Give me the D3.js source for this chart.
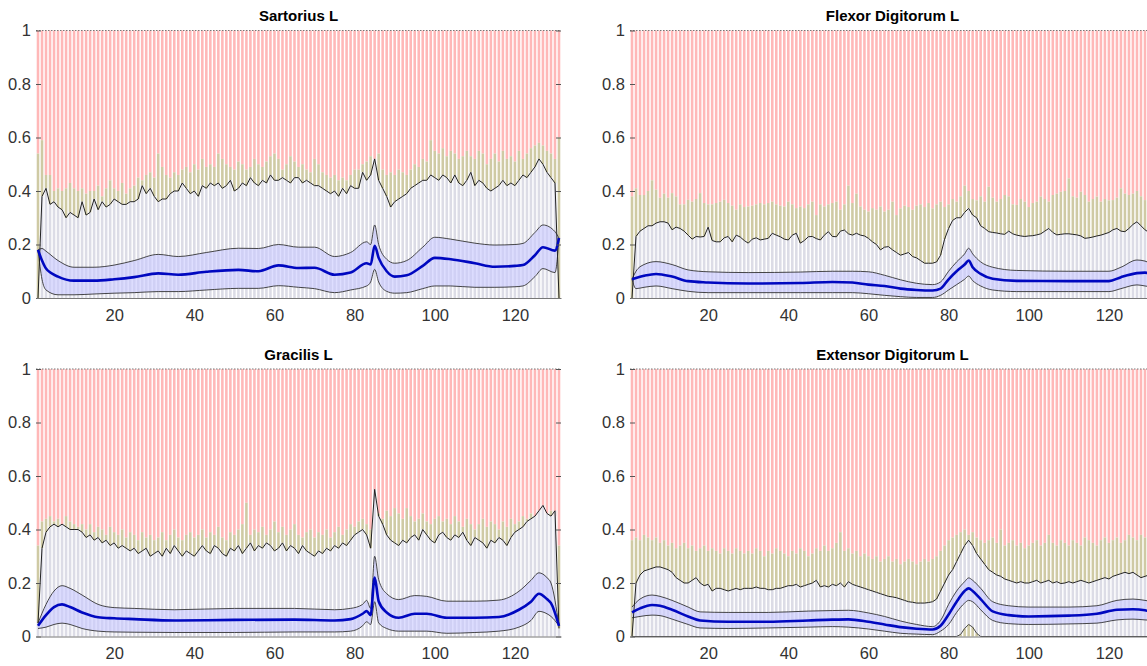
<!DOCTYPE html>
<html>
<head>
<meta charset="utf-8">
<script src="https://cdn.jsdelivr.net/npm/d3@7"></script>
<style>
  body { margin: 0; background: #fff; }
  svg { display: block; font-family: "Liberation Sans", Arial, Helvetica, sans-serif; }
</style>
</head>
<body>
<div id="chart"></div>
<script>
// frame index on the x axis
const frames = d3.range(1, 132);
const xTicks = [20, 40, 60, 80, 100, 120];
const yTicks = [0, 0.2, 0.4, 0.6, 0.8, 1];
const titles = ['Sartorius L', 'Flexor Digitorum L', 'Gracilis L', 'Extensor Digitorum L'];

// ---- Sartorius L ----
const sartMax = [
  0, 0.38, 0.41, 0.35, 0.36, 0.34, 0.33, 0.30, 0.32, 0.31,
  0.30, 0.36, 0.31, 0.32, 0.37, 0.33, 0.36, 0.34, 0.35, 0.37,
  0.36, 0.35, 0.35, 0.36, 0.36, 0.37, 0.42, 0.39, 0.41, 0.38,
  0.36, 0.37, 0.37, 0.39, 0.40, 0.40, 0.43, 0.41, 0.39, 0.40,
  0.38, 0.42, 0.41, 0.43, 0.42, 0.43, 0.41, 0.42, 0.44, 0.40,
  0.41, 0.43, 0.42, 0.45, 0.43, 0.42, 0.44, 0.43, 0.46, 0.44,
  0.44, 0.45, 0.44, 0.43, 0.45, 0.45, 0.43, 0.44, 0.43, 0.42,
  0.42, 0.41, 0.40, 0.39, 0.40, 0.38, 0.41, 0.39, 0.42, 0.41,
  0.41, 0.47, 0.44, 0.46, 0.52, 0.44, 0.41, 0.38, 0.34, 0.36,
  0.37, 0.38, 0.39, 0.41, 0.42, 0.43, 0.44, 0.44, 0.46, 0.45,
  0.44, 0.46, 0.45, 0.43, 0.46, 0.43, 0.42, 0.44, 0.47, 0.42,
  0.44, 0.43, 0.41, 0.40, 0.41, 0.42, 0.44, 0.42, 0.43, 0.42,
  0.44, 0.46, 0.45, 0.47, 0.49, 0.52, 0.50, 0.47, 0.45, 0.43,
  0
];
const sartTop = [
  0.54, 0.59, 0.46, 0.46, 0.40, 0.41, 0.40, 0.41, 0.43, 0.41,
  0.40, 0.41, 0.39, 0.40, 0.40, 0.42, 0.38, 0.41, 0.44, 0.41,
  0.40, 0.43, 0.39, 0.41, 0.42, 0.45, 0.44, 0.46, 0.47, 0.45,
  0.54, 0.49, 0.46, 0.45, 0.47, 0.46, 0.48, 0.49, 0.47, 0.50,
  0.48, 0.52, 0.49, 0.50, 0.49, 0.54, 0.52, 0.50, 0.49, 0.48,
  0.51, 0.50, 0.48, 0.49, 0.52, 0.50, 0.49, 0.51, 0.53, 0.54,
  0.52, 0.48, 0.50, 0.53, 0.51, 0.49, 0.50, 0.48, 0.47, 0.52,
  0.50, 0.47, 0.46, 0.45, 0.46, 0.44, 0.45, 0.44, 0.46, 0.48,
  0.48, 0.50, 0.51, 0.53, 0.52, 0.54, 0.48, 0.46, 0.47, 0.46,
  0.48, 0.47, 0.46, 0.48, 0.50, 0.49, 0.52, 0.51, 0.59, 0.55,
  0.54, 0.56, 0.53, 0.55, 0.54, 0.52, 0.53, 0.55, 0.53, 0.52,
  0.55, 0.54, 0.50, 0.52, 0.54, 0.51, 0.55, 0.52, 0.53, 0.51,
  0.55, 0.52, 0.54, 0.56, 0.57, 0.58, 0.57, 0.55, 0.54, 0.52,
  0.60
];
const sartKnots = [1, 2, 3, 6, 10, 15, 20, 25, 31, 36, 43, 51, 56, 61, 66, 70, 75, 79, 83, 84, 85, 86, 88, 90, 93, 97, 100, 104, 110, 115, 120, 122, 125, 127, 130, 131];
const sartMean  = [0.18, 0.14, 0.11, 0.08, 0.065, 0.065, 0.07, 0.078, 0.092, 0.087, 0.098, 0.105, 0.1, 0.122, 0.112, 0.113, 0.087, 0.095, 0.13, 0.125, 0.195, 0.15, 0.1, 0.08, 0.085, 0.12, 0.15, 0.145, 0.13, 0.117, 0.12, 0.123, 0.16, 0.19, 0.177, 0.224];
const sartUpper = [0.18, 0.185, 0.175, 0.14, 0.115, 0.115, 0.123, 0.14, 0.163, 0.155, 0.17, 0.186, 0.185, 0.2, 0.19, 0.19, 0.155, 0.17, 0.21, 0.2, 0.273, 0.2, 0.145, 0.13, 0.14, 0.19, 0.227, 0.22, 0.205, 0.198, 0.2, 0.204, 0.245, 0.273, 0.248, 0.224];
const sartLower = [0.18, 0.07, 0.03, 0.012, 0.012, 0.015, 0.018, 0.02, 0.024, 0.024, 0.03, 0.036, 0.036, 0.046, 0.04, 0.035, 0.02, 0.03, 0.045, 0.06, 0.107, 0.06, 0.025, 0.018, 0.02, 0.035, 0.045, 0.045, 0.04, 0.04, 0.042, 0.045, 0.08, 0.11, 0.095, 0.224];

// ---- Flexor Digitorum L ----
const flexMax = [
  0, 0.23, 0.25, 0.26, 0.27, 0.27, 0.28, 0.285, 0.285, 0.28,
  0.255, 0.265, 0.26, 0.25, 0.235, 0.22, 0.23, 0.228, 0.23, 0.265,
  0.215, 0.21, 0.21, 0.225, 0.23, 0.21, 0.235, 0.228, 0.215, 0.205,
  0.22, 0.225, 0.217, 0.22, 0.223, 0.242, 0.235, 0.229, 0.22, 0.217,
  0.235, 0.242, 0.205, 0.215, 0.229, 0.23, 0.222, 0.217, 0.235, 0.248,
  0.23, 0.229, 0.25, 0.254, 0.24, 0.235, 0.242, 0.235, 0.232, 0.223,
  0.21, 0.2, 0.18, 0.19, 0.192, 0.18, 0.17, 0.16, 0.165, 0.17,
  0.155, 0.15, 0.14, 0.13, 0.13, 0.13, 0.135, 0.16, 0.22, 0.26,
  0.29, 0.30, 0.30, 0.32, 0.335, 0.31, 0.30, 0.27, 0.26, 0.248,
  0.245, 0.243, 0.24, 0.238, 0.25, 0.24, 0.235, 0.232, 0.23, 0.232,
  0.233, 0.236, 0.24, 0.25, 0.26, 0.245, 0.236, 0.238, 0.24, 0.24,
  0.238, 0.236, 0.232, 0.223, 0.225, 0.228, 0.232, 0.235, 0.24, 0.245,
  0.255, 0.26, 0.25, 0.248, 0.26, 0.275, 0.285, 0.27, 0.255, 0.245,
  0.24
];
const flexTop = [
  0.38, 0.41, 0.385, 0.385, 0.40, 0.44, 0.405, 0.375, 0.39, 0.375,
  0.392, 0.38, 0.35, 0.35, 0.367, 0.36, 0.37, 0.392, 0.355, 0.35,
  0.35, 0.355, 0.36, 0.367, 0.355, 0.345, 0.33, 0.35, 0.34, 0.342,
  0.345, 0.35, 0.355, 0.35, 0.355, 0.36, 0.35, 0.345, 0.342, 0.36,
  0.35, 0.336, 0.342, 0.336, 0.35, 0.36, 0.31, 0.35, 0.342, 0.35,
  0.355, 0.36, 0.33, 0.35, 0.42, 0.355, 0.39, 0.342, 0.33, 0.323,
  0.336, 0.33, 0.342, 0.323, 0.33, 0.36, 0.31, 0.335, 0.345, 0.34,
  0.33, 0.345, 0.35, 0.34, 0.355, 0.335, 0.35, 0.36, 0.34, 0.35,
  0.37, 0.36, 0.38, 0.42, 0.40, 0.37, 0.365, 0.38, 0.36, 0.416,
  0.375, 0.36, 0.37, 0.385, 0.38, 0.35, 0.348, 0.37, 0.36, 0.34,
  0.355, 0.36, 0.379, 0.37, 0.36, 0.385, 0.39, 0.397, 0.40, 0.447,
  0.38, 0.375, 0.397, 0.385, 0.36, 0.37, 0.379, 0.36, 0.37, 0.365,
  0.366, 0.375, 0.41, 0.39, 0.385, 0.39, 0.40, 0.38, 0.366, 0.37,
  0.37
];
const flexKnots = [1, 2, 4, 7, 11, 15, 20, 30, 43, 51, 56, 60, 64, 68, 72, 76, 78, 80, 82, 84, 85, 86, 88, 91, 97, 110, 120, 123, 127, 129, 131];
const flexMean  = [0.07, 0.075, 0.083, 0.09, 0.08, 0.063, 0.058, 0.054, 0.056, 0.06, 0.058, 0.05, 0.045, 0.035, 0.03, 0.028, 0.035, 0.07, 0.1, 0.125, 0.14, 0.115, 0.09, 0.072, 0.064, 0.063, 0.063, 0.078, 0.093, 0.095, 0.085];
const flexUpper = [0.07, 0.1, 0.125, 0.136, 0.125, 0.105, 0.098, 0.095, 0.097, 0.1, 0.1, 0.098, 0.085, 0.068, 0.055, 0.05, 0.06, 0.1, 0.135, 0.165, 0.186, 0.165, 0.135, 0.115, 0.103, 0.1, 0.1, 0.115, 0.142, 0.138, 0.125];
const flexLower = [0.07, 0.035, 0.04, 0.045, 0.035, 0.025, 0.02, 0.02, 0.02, 0.02, 0.02, 0.016, 0.01, 0.005, 0.002, 0.002, 0.01, 0.03, 0.05, 0.07, 0.082, 0.065, 0.045, 0.03, 0.024, 0.024, 0.024, 0.035, 0.049, 0.045, 0.04];

// ---- Gracilis L ----
const gracMax = [
  0.05, 0.33, 0.39, 0.41, 0.42, 0.41, 0.42, 0.41, 0.40, 0.40,
  0.40, 0.39, 0.37, 0.38, 0.36, 0.37, 0.35, 0.36, 0.34, 0.35,
  0.33, 0.34, 0.33, 0.32, 0.33, 0.31, 0.32, 0.33, 0.30, 0.31,
  0.32, 0.30, 0.33, 0.31, 0.34, 0.32, 0.30, 0.32, 0.31, 0.30,
  0.32, 0.34, 0.32, 0.31, 0.34, 0.33, 0.31, 0.30, 0.33, 0.32,
  0.34, 0.31, 0.33, 0.35, 0.32, 0.34, 0.33, 0.35, 0.34, 0.32,
  0.33, 0.35, 0.32, 0.34, 0.33, 0.31, 0.34, 0.32, 0.31, 0.30,
  0.32, 0.31, 0.33, 0.32, 0.34, 0.33, 0.35, 0.34, 0.36, 0.38,
  0.39, 0.40, 0.38, 0.33, 0.55, 0.45, 0.42, 0.38, 0.36, 0.35,
  0.34, 0.36, 0.35, 0.37, 0.38, 0.36, 0.40, 0.38, 0.36, 0.35,
  0.38, 0.39, 0.37, 0.36, 0.38, 0.37, 0.39, 0.36, 0.34, 0.37,
  0.36, 0.35, 0.33, 0.36, 0.35, 0.37, 0.36, 0.34, 0.37, 0.39,
  0.40, 0.41, 0.43, 0.44, 0.45, 0.47, 0.49, 0.46, 0.45, 0.47,
  0.03
];
const gracTop = [
  0.34, 0.43, 0.44, 0.45, 0.43, 0.44, 0.42, 0.45, 0.43, 0.42,
  0.41, 0.42, 0.40, 0.42, 0.39, 0.41, 0.40, 0.38, 0.41, 0.39,
  0.38, 0.40, 0.37, 0.39, 0.38, 0.36, 0.39, 0.37, 0.38, 0.36,
  0.37, 0.39, 0.36, 0.38, 0.40, 0.37, 0.36, 0.38, 0.39, 0.37,
  0.38, 0.40, 0.37, 0.39, 0.38, 0.41, 0.37, 0.36, 0.39, 0.38,
  0.40, 0.42, 0.50, 0.38, 0.40, 0.39, 0.41, 0.38, 0.40, 0.43,
  0.39, 0.41, 0.38, 0.40, 0.42, 0.38, 0.37, 0.39, 0.40, 0.37,
  0.39, 0.38, 0.40, 0.37, 0.39, 0.41, 0.38, 0.40, 0.42, 0.41,
  0.43, 0.44, 0.42, 0.40, 0.50, 0.46, 0.44, 0.47, 0.45, 0.48,
  0.46, 0.44, 0.48, 0.45, 0.43, 0.44, 0.46, 0.43, 0.42, 0.44,
  0.45, 0.43, 0.44, 0.42, 0.45, 0.43, 0.41, 0.44, 0.42, 0.40,
  0.42, 0.44, 0.41, 0.43, 0.42, 0.40, 0.43, 0.41, 0.44, 0.42,
  0.43, 0.45, 0.44, 0.46, 0.45, 0.47, 0.48, 0.46, 0.47, 0.45,
  0.34
];
const gracKnots = [1, 3, 5, 7, 9, 12, 16, 20, 25, 35, 50, 65, 75, 79, 82, 83, 84, 85, 86, 88, 91, 95, 98, 103, 110, 116, 121, 124, 126, 128, 129, 131];
const gracMean  = [0.04, 0.08, 0.11, 0.12, 0.11, 0.09, 0.072, 0.068, 0.065, 0.06, 0.062, 0.063, 0.06, 0.065, 0.085, 0.095, 0.08, 0.22, 0.132, 0.09, 0.07, 0.085, 0.085, 0.07, 0.07, 0.073, 0.1, 0.13, 0.16, 0.14, 0.125, 0.04];
const gracUpper = [0.05, 0.12, 0.17, 0.19, 0.18, 0.155, 0.12, 0.108, 0.105, 0.1, 0.105, 0.105, 0.1, 0.105, 0.12, 0.135, 0.105, 0.3, 0.213, 0.16, 0.138, 0.153, 0.15, 0.132, 0.132, 0.136, 0.169, 0.21, 0.238, 0.22, 0.2, 0.04];
const gracLower = [0.03, 0.035, 0.045, 0.05, 0.045, 0.03, 0.02, 0.017, 0.016, 0.015, 0.015, 0.017, 0.017, 0.02, 0.04, 0.055, 0.045, 0.13, 0.051, 0.03, 0.02, 0.02, 0.02, 0.012, 0.015, 0.02, 0.035, 0.06, 0.094, 0.085, 0.075, 0.04];

// ---- Extensor Digitorum L ----
const extMax = [
  0, 0.20, 0.23, 0.245, 0.25, 0.255, 0.26, 0.26, 0.255, 0.25,
  0.24, 0.22, 0.21, 0.20, 0.20, 0.21, 0.22, 0.20, 0.19, 0.195,
  0.17, 0.18, 0.18, 0.175, 0.17, 0.175, 0.18, 0.175, 0.18, 0.18,
  0.18, 0.185, 0.18, 0.18, 0.175, 0.175, 0.18, 0.18, 0.185, 0.19,
  0.19, 0.195, 0.185, 0.19, 0.195, 0.20, 0.21, 0.185, 0.19, 0.185,
  0.195, 0.19, 0.20, 0.185, 0.205, 0.195, 0.19, 0.185, 0.18, 0.175,
  0.17, 0.165, 0.16, 0.155, 0.15, 0.148, 0.145, 0.14, 0.135, 0.13,
  0.128, 0.125, 0.125, 0.125, 0.127, 0.13, 0.14, 0.17, 0.2, 0.23,
  0.25, 0.28, 0.31, 0.34, 0.36, 0.34, 0.31, 0.29, 0.27, 0.25,
  0.24, 0.23, 0.225, 0.215, 0.21, 0.205, 0.2, 0.205, 0.2, 0.2,
  0.205, 0.21, 0.2, 0.205, 0.21, 0.2, 0.205, 0.198, 0.2, 0.205,
  0.2, 0.205, 0.21, 0.205, 0.2, 0.205, 0.21, 0.215, 0.22, 0.215,
  0.225, 0.23, 0.235, 0.24, 0.235, 0.24, 0.23, 0.22, 0.225, 0.23,
  0.235
];
const extTop = [
  0.36, 0.37, 0.36, 0.38, 0.37, 0.36, 0.37, 0.35, 0.36, 0.34,
  0.35, 0.33, 0.34, 0.35, 0.33, 0.34, 0.32, 0.33, 0.34, 0.32,
  0.33, 0.32, 0.31, 0.33, 0.32, 0.31, 0.33, 0.32, 0.31, 0.32,
  0.31, 0.33, 0.32, 0.30, 0.32, 0.31, 0.33, 0.32, 0.31, 0.30,
  0.32, 0.31, 0.33, 0.32, 0.30, 0.31, 0.33, 0.32, 0.34, 0.32,
  0.33, 0.35, 0.39, 0.32, 0.33, 0.31, 0.32, 0.30, 0.31, 0.30,
  0.29, 0.30, 0.28, 0.29, 0.30, 0.28, 0.29, 0.27, 0.28, 0.29,
  0.28, 0.27, 0.28, 0.29, 0.28, 0.29, 0.30, 0.32, 0.34, 0.36,
  0.37, 0.38, 0.39, 0.40, 0.38, 0.39, 0.37, 0.36, 0.35, 0.36,
  0.37, 0.35, 0.40, 0.34, 0.35, 0.36, 0.34, 0.35, 0.33, 0.34,
  0.35, 0.36, 0.34, 0.35, 0.38, 0.35, 0.34, 0.36, 0.35, 0.34,
  0.36, 0.35, 0.34, 0.37, 0.36, 0.35, 0.34, 0.36, 0.37, 0.35,
  0.36, 0.37, 0.35, 0.36, 0.38, 0.37, 0.36, 0.38, 0.37, 0.36,
  0.37
];
const extKnots = [1, 3, 6, 8, 11, 15, 18, 25, 35, 45, 51, 55, 60, 64, 68, 72, 76, 78, 80, 82, 84, 85, 86, 88, 91, 95, 100, 110, 117, 122, 126, 129, 131];
const extMean  = [0.09, 0.105, 0.118, 0.115, 0.1, 0.075, 0.06, 0.055, 0.055, 0.06, 0.063, 0.064, 0.055, 0.045, 0.035, 0.029, 0.026, 0.04, 0.082, 0.13, 0.17, 0.18, 0.17, 0.14, 0.094, 0.08, 0.075, 0.078, 0.085, 0.1, 0.102, 0.098, 0.09];
const extUpper = [0.11, 0.14, 0.155, 0.15, 0.135, 0.11, 0.092, 0.09, 0.09, 0.095, 0.097, 0.098, 0.088, 0.075, 0.058, 0.045, 0.037, 0.06, 0.12, 0.17, 0.205, 0.219, 0.21, 0.18, 0.13, 0.115, 0.11, 0.11, 0.115, 0.135, 0.14, 0.135, 0.13];
const extLower = [0.07, 0.075, 0.08, 0.078, 0.065, 0.045, 0.032, 0.03, 0.032, 0.035, 0.037, 0.035, 0.028, 0.02, 0.012, 0.009, 0.007, 0.02, 0.045, 0.09, 0.125, 0.135, 0.13, 0.1, 0.06, 0.048, 0.045, 0.047, 0.05, 0.062, 0.065, 0.062, 0.06];
const extMinIdx = [1, 82, 83, 84, 85, 86, 87, 88, 131];
const extMinVal = [0, 0, 0.008, 0.03, 0.045, 0.035, 0.012, 0, 0];

const panels = [
  { knots: sartKnots, mean: sartMean, upper: sartUpper, lower: sartLower, max: sartMax, top: sartTop, minIdx: [], minVal: [] },
  { knots: flexKnots, mean: flexMean, upper: flexUpper, lower: flexLower, max: flexMax, top: flexTop, minIdx: [], minVal: [] },
  { knots: gracKnots, mean: gracMean, upper: gracUpper, lower: gracLower, max: gracMax, top: gracTop, minIdx: [], minVal: [] },
  { knots: extKnots, mean: extMean, upper: extUpper, lower: extLower, max: extMax, top: extTop, minIdx: extMinIdx, minVal: extMinVal }
];

const W = 1147, H = 666;
const plotW = 525, plotH = 267.5;
const origins = [[36, 30.5], [630, 30.5], [36, 369], [630, 369]];

const svg = d3.select('#chart').append('svg')
  .attr('width', W)
  .attr('height', H);

svg.append('rect').attr('width', W).attr('height', H).attr('fill', '#fff');

panels.forEach((p, n) => drawPanel(p, titles[n], origins[n]));

function drawPanel(p, title, origin) {
  const g = svg.append('g').attr('transform', `translate(${origin[0]},${origin[1]})`);

  const x = d3.scaleLinear().domain([0.5, 131.5]).range([0, plotW]);
  const y = d3.scaleLinear().domain([0, 1]).range([plotH, 0]);
  const bw = (x(2) - x(1)) * 0.64;

  const minAt = f => {
    const k = p.minIdx.indexOf(f);
    return k < 0 ? 0 : p.minVal[k];
  };
  const rows = frames.map((f, k) => ({ f, lo: minAt(f), mx: p.max[k], top: p.top[k] }));

  // stacked bars: pink on top, olive, grey body, olive foot
  const segs = [
    ['#ffb8b8', d => d.top, d => 1],
    ['#cfcaa4', d => d.mx, d => d.top],
    ['#dcdce6', d => d.lo, d => d.mx],
    ['#cfcaa4', d => 0, d => d.lo]
  ];
  segs.forEach(([color, a, b]) => {
    g.append('g').selectAll('rect')
      .data(rows)
      .join('rect')
      .attr('x', d => x(d.f) - bw / 2)
      .attr('width', bw)
      .attr('y', d => y(b(d)))
      .attr('height', d => Math.max(0, y(a(d)) - y(b(d))))
      .attr('fill', color);
  });

  // dotted top edge
  g.append('line')
    .attr('x1', 0).attr('x2', plotW)
    .attr('y1', y(1)).attr('y2', y(1))
    .attr('stroke', '#777')
    .attr('stroke-width', 1)
    .attr('stroke-dasharray', '1.5,1.5');

  const band = p.knots.map((k, i) => ({ k, m: p.mean[i], u: p.upper[i], l: p.lower[i] }));

  const area = d3.area()
    .x(d => x(d.k))
    .y0(d => y(d.l))
    .y1(d => y(d.u))
    .curve(d3.curveMonotoneX);

  g.append('path')
    .datum(band)
    .attr('d', area)
    .attr('fill', '#c8c8ff')
    .attr('fill-opacity', 0.6);

  const smooth = key => d3.line()
    .x(d => x(d.k))
    .y(d => y(d[key]))
    .curve(d3.curveMonotoneX);

  ['u', 'l'].forEach(key => {
    g.append('path')
      .datum(band)
      .attr('d', smooth(key))
      .attr('fill', 'none')
      .attr('stroke', '#333')
      .attr('stroke-width', 0.9);
  });

  // max envelope
  g.append('path')
    .datum(rows)
    .attr('d', d3.line().x(d => x(d.f)).y(d => y(d.mx)))
    .attr('fill', 'none')
    .attr('stroke', '#222')
    .attr('stroke-width', 1);

  // min envelope (only visible where it lifts off zero)
  if (p.minIdx.length) {
    g.append('path')
      .datum(p.minIdx.map((f, i) => [f, p.minVal[i]]))
      .attr('d', d3.line().x(d => x(d[0])).y(d => y(d[1])))
      .attr('fill', 'none')
      .attr('stroke', '#333')
      .attr('stroke-width', 0.9);
  }

  g.append('path')
    .datum(band)
    .attr('d', smooth('m'))
    .attr('fill', 'none')
    .attr('stroke', '#0008c0')
    .attr('stroke-width', 2.6);

  // axes
  const yAxis = g.append('g')
    .call(d3.axisLeft(y).tickValues(yTicks).tickFormat(d3.format('~g')).tickSizeInner(-5).tickSizeOuter(0).tickPadding(5));
  yAxis.select('.domain').remove();

  const yAxisR = g.append('g')
    .attr('transform', `translate(${plotW},0)`)
    .call(d3.axisRight(y).tickValues(yTicks).tickFormat('').tickSizeInner(-5).tickSizeOuter(0));
  yAxisR.select('.domain').remove();

  const xAxis = g.append('g')
    .attr('transform', `translate(0,${plotH})`)
    .call(d3.axisBottom(x).tickValues(xTicks).tickSizeInner(0).tickSizeOuter(0).tickPadding(11));
  xAxis.select('.domain').attr('stroke', '#777');

  [yAxis, yAxisR, xAxis].forEach(a => {
    a.selectAll('.tick line').attr('stroke', '#555');
    a.selectAll('text')
      .style('font-size', '16.5px')
      .style('fill', '#333');
  });

  g.append('text')
    .attr('x', plotW / 2)
    .attr('y', -9.5)
    .attr('text-anchor', 'middle')
    .style('font-size', '15px')
    .style('font-weight', 'bold')
    .style('fill', '#000')
    .text(title);
}
</script>
</body>
</html>
